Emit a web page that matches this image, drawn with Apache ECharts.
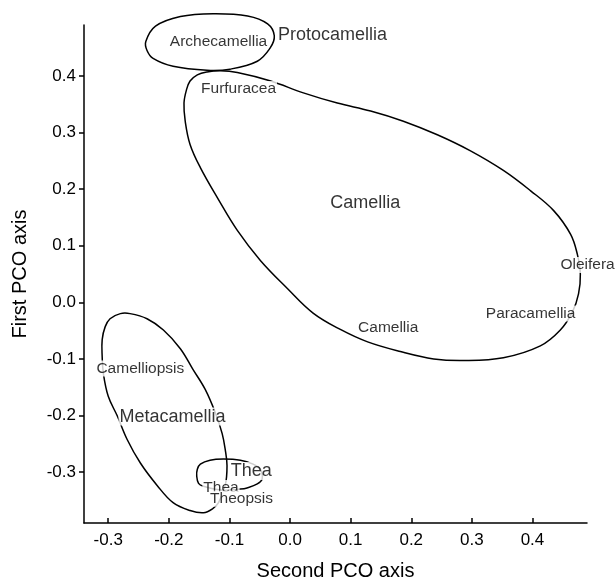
<!DOCTYPE html>
<html><head><meta charset="utf-8">
<script src="https://cdn.jsdelivr.net/npm/echarts@6/dist/echarts.min.js"></script>
<style>html,body{margin:0;padding:0;background:#fff}#c{width:615px;height:586px}</style>
</head><body><div id="c"></div>
<script>
const xTicks = [-0.3, -0.2, -0.1, 0.0, 0.1, 0.2, 0.3, 0.4];
const yTicks = [-0.3, -0.2, -0.1, 0.0, 0.1, 0.2, 0.3, 0.4];

// outlines [second PCO, first PCO]
const protocamelliaOutline = [
  [-0.238, 0.461], [-0.222, 0.488], [-0.181, 0.505], [-0.127, 0.510], [-0.070, 0.506],
  [-0.037, 0.492], [-0.026, 0.471], [-0.033, 0.449], [-0.054, 0.426], [-0.099, 0.412],
  [-0.137, 0.410], [-0.193, 0.417], [-0.226, 0.431], [-0.236, 0.445]
];
const camelliaOutline = [
  [-0.175, 0.352], [-0.171, 0.375], [-0.165, 0.391], [-0.153, 0.402], [-0.137, 0.407],
  [-0.115, 0.409], [-0.087, 0.406],
  [-0.032, 0.391], [0.022, 0.370], [0.078, 0.352], [0.133, 0.338], [0.187, 0.320],
  [0.243, 0.296], [0.297, 0.268], [0.352, 0.233], [0.397, 0.197], [0.435, 0.162],
  [0.463, 0.120], [0.474, 0.085], [0.479, 0.050], [0.476, 0.015], [0.466, -0.017],
  [0.446, -0.049], [0.413, -0.077], [0.352, -0.098], [0.286, -0.103], [0.237, -0.100],
  [0.182, -0.087], [0.128, -0.070], [0.083, -0.048], [0.038, -0.019], [-0.004, 0.024],
  [-0.049, 0.074], [-0.087, 0.127], [-0.120, 0.185], [-0.148, 0.238], [-0.165, 0.279],
  [-0.173, 0.320]
];
const metacamelliaOutline = [
  [-0.280, -0.020], [-0.264, -0.020], [-0.236, -0.029], [-0.209, -0.049], [-0.181, -0.082],
  [-0.160, -0.119], [-0.140, -0.154], [-0.123, -0.196], [-0.112, -0.232], [-0.107, -0.260],
  [-0.104, -0.289], [-0.107, -0.324], [-0.118, -0.354], [-0.128, -0.365], [-0.143, -0.372],
  [-0.165, -0.368], [-0.193, -0.354], [-0.219, -0.324], [-0.247, -0.284], [-0.269, -0.242],
  [-0.285, -0.201], [-0.300, -0.166], [-0.308, -0.126], [-0.310, -0.096], [-0.310, -0.066],
  [-0.305, -0.043], [-0.297, -0.029]
];
const theaOutline = [
  [-0.132, -0.279], [-0.110, -0.277], [-0.082, -0.279], [-0.061, -0.286], [-0.049, -0.295],
  [-0.046, -0.312], [-0.054, -0.321], [-0.071, -0.328], [-0.082, -0.330], [-0.112, -0.332],
  [-0.143, -0.325], [-0.151, -0.320], [-0.154, -0.307], [-0.153, -0.295], [-0.148, -0.286]
];

const groupNames = ['Protocamellia', 'Camellia', 'Metacamellia', 'Thea'];
const groupPos = [[0.070, 0.473], [0.124, 0.175], [-0.194, -0.202], [-0.064, -0.298]];
const sectionNames = ['Archecamellia', 'Furfuracea', 'Oleifera', 'Paracamellia', 'Camellia', 'Camelliopsis', 'Thea', 'Theopsis'];
const sectionPos = [[-0.118, 0.461], [-0.085, 0.377], [0.491, 0.066], [0.397, -0.020], [0.162, -0.045], [-0.247, -0.117], [-0.114, -0.328], [-0.080, -0.347]];

const FONT = '"Liberation Sans", Arial, Helvetica, sans-serif';

// closed smooth outline drawn through the cartesian scales
function outlineSeries(name, pts) {
  return {
    name, type: 'custom', coordinateSystem: 'cartesian2d', clip: false, silent: true, z: 2,
    data: pts, encode: { x: 0, y: 1 },
    renderItem: (params, api) => {
      if (params.dataIndex !== 0) return null;
      const points = pts.map(p => api.coord(p));
      return {
        type: 'polygon', silent: true,
        shape: { points, smooth: 0.38 },
        style: { fill: null, stroke: '#000', lineWidth: 1.5 }
      };
    }
  };
}
function labelSeries(name, names, pos, size) {
  return {
    name, type: 'scatter', symbolSize: 0, clip: false, silent: true, z: 5,
    data: names.map((n, i) => ({ name: n, value: pos[i] })),
    label: {
      show: true, position: 'inside', formatter: p => p.name,
      color: '#000', fontSize: size, fontFamily: FONT,
      textBorderWidth: 0, textShadowBlur: 0,
      backgroundColor: '#fff', padding: [0, 1]
    },
    labelLayout: { hideOverlap: false }
  };
}

const axisCommon = {
  type: 'value',
  splitLine: { show: false },
  axisLine: { show: true, onZero: false, lineStyle: { color: '#000', width: 1.5 } },
  nameLocation: 'middle',
  nameTextStyle: { color: '#000', fontSize: 20, fontFamily: FONT }
};

const chart = echarts.init(document.getElementById('c'), null, { renderer: 'canvas' });
chart.setOption({
  animation: false,
  backgroundColor: '#fff',
  grid: { left: 84, right: 28, top: 25, bottom: 57, containLabel: false },
  xAxis: Object.assign({}, axisCommon, {
    min: -0.34, max: 0.49,
    name: 'Second PCO axis', nameGap: 38,
    axisTick: { show: true, inside: true, length: 5, customValues: xTicks, lineStyle: { color: '#000', width: 1.5 } },
    axisLabel: { customValues: xTicks, formatter: v => v.toFixed(1), color: '#000', fontSize: 17, margin: 9, fontFamily: FONT }
  }),
  yAxis: Object.assign({}, axisCommon, {
    min: -0.39, max: 0.49,
    name: 'First PCO axis', nameGap: 54,
    axisTick: { show: true, inside: false, length: 5, customValues: yTicks, lineStyle: { color: '#000', width: 1.5 } },
    axisLabel: { customValues: yTicks, formatter: v => v.toFixed(1), color: '#000', fontSize: 17, margin: 8, fontFamily: FONT }
  }),
  series: [
    outlineSeries('Protocamellia', protocamelliaOutline),
    outlineSeries('Camellia', camelliaOutline),
    outlineSeries('Metacamellia', metacamelliaOutline),
    outlineSeries('Thea', theaOutline),
    labelSeries('groups', groupNames, groupPos, 18),
    labelSeries('sections', sectionNames, sectionPos, 15.5)
  ]
});
</script>
</body></html>
